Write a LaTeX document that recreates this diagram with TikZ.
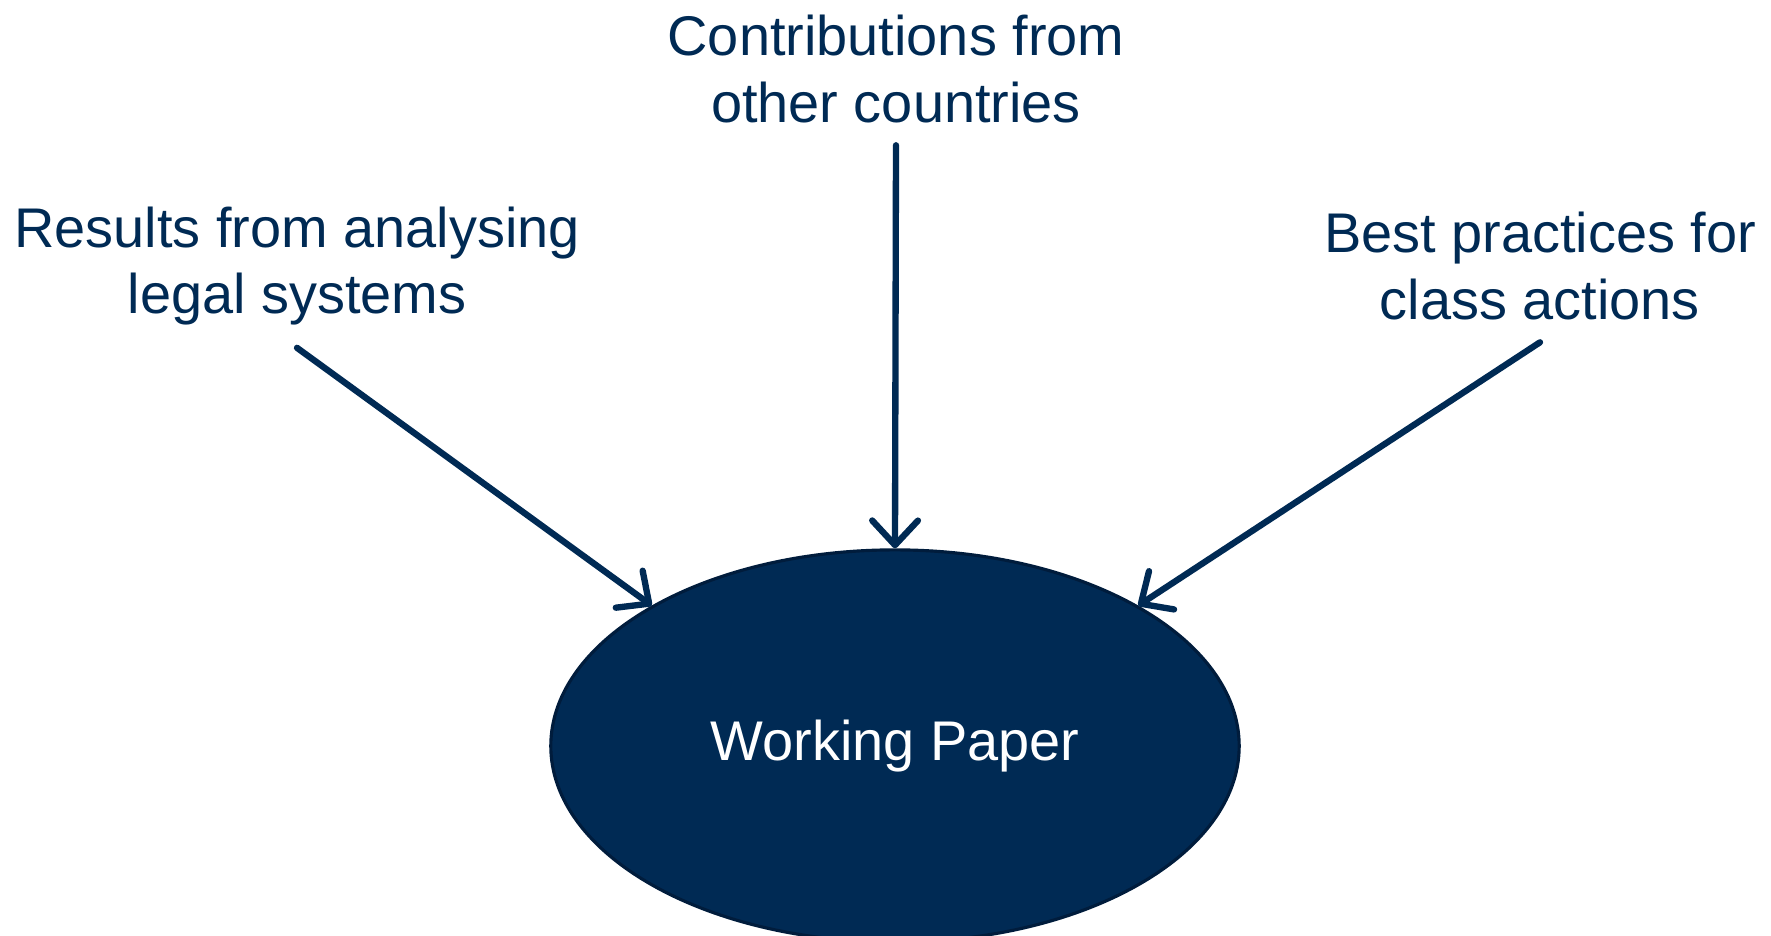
\documentclass[tikz,border=0pt]{standalone}
\usepackage{fontspec}
\setmainfont{Liberation Sans}
\usetikzlibrary{shapes.geometric,arrows.meta}
\definecolor{navy}{RGB}{0,42,84}
\definecolor{navyedge}{RGB}{0,28,60}
\begin{document}
\begin{tikzpicture}[line join=round,line cap=round,x=0.01cm,y=-0.01cm]
	\tikzset{
		src/.style={text=navy,align=center,font=\fontsize{15.9}{18.8}\selectfont,inner sep=0pt},
		arr/.style={draw=navy,line width=1.8pt,-{Straight Barb[length=7pt,width=13pt,line cap=round,line join=round]}},
		paper/.style={ellipse,fill=navy,draw=navyedge,line width=0.9pt,minimum width=6.88cm,minimum height=3.92cm,text=white,font=\fontsize{15.9}{18.8}\selectfont}
	}
	\useasboundingbox (0,0) rectangle (1771,936);
	\node[paper] (wp) at (895,746) {Working Paper};
	\node[src] (contrib) at (896,69) {Contributions from\\other countries};
	\node[src] (results) at (297,266) {Results from analysing\\legal systems};
	\node[src] (best) at (1540,266) {Best practices for\\class actions};
	\draw[arr] ([yshift=-0.22cm]contrib.south) -- (wp.north);
	\draw[arr] ([yshift=-0.22cm]results.south) -- (wp.150);
	\draw[arr] ([yshift=-0.22cm]best.south) -- (wp.30);
\end{tikzpicture}
\end{document}
